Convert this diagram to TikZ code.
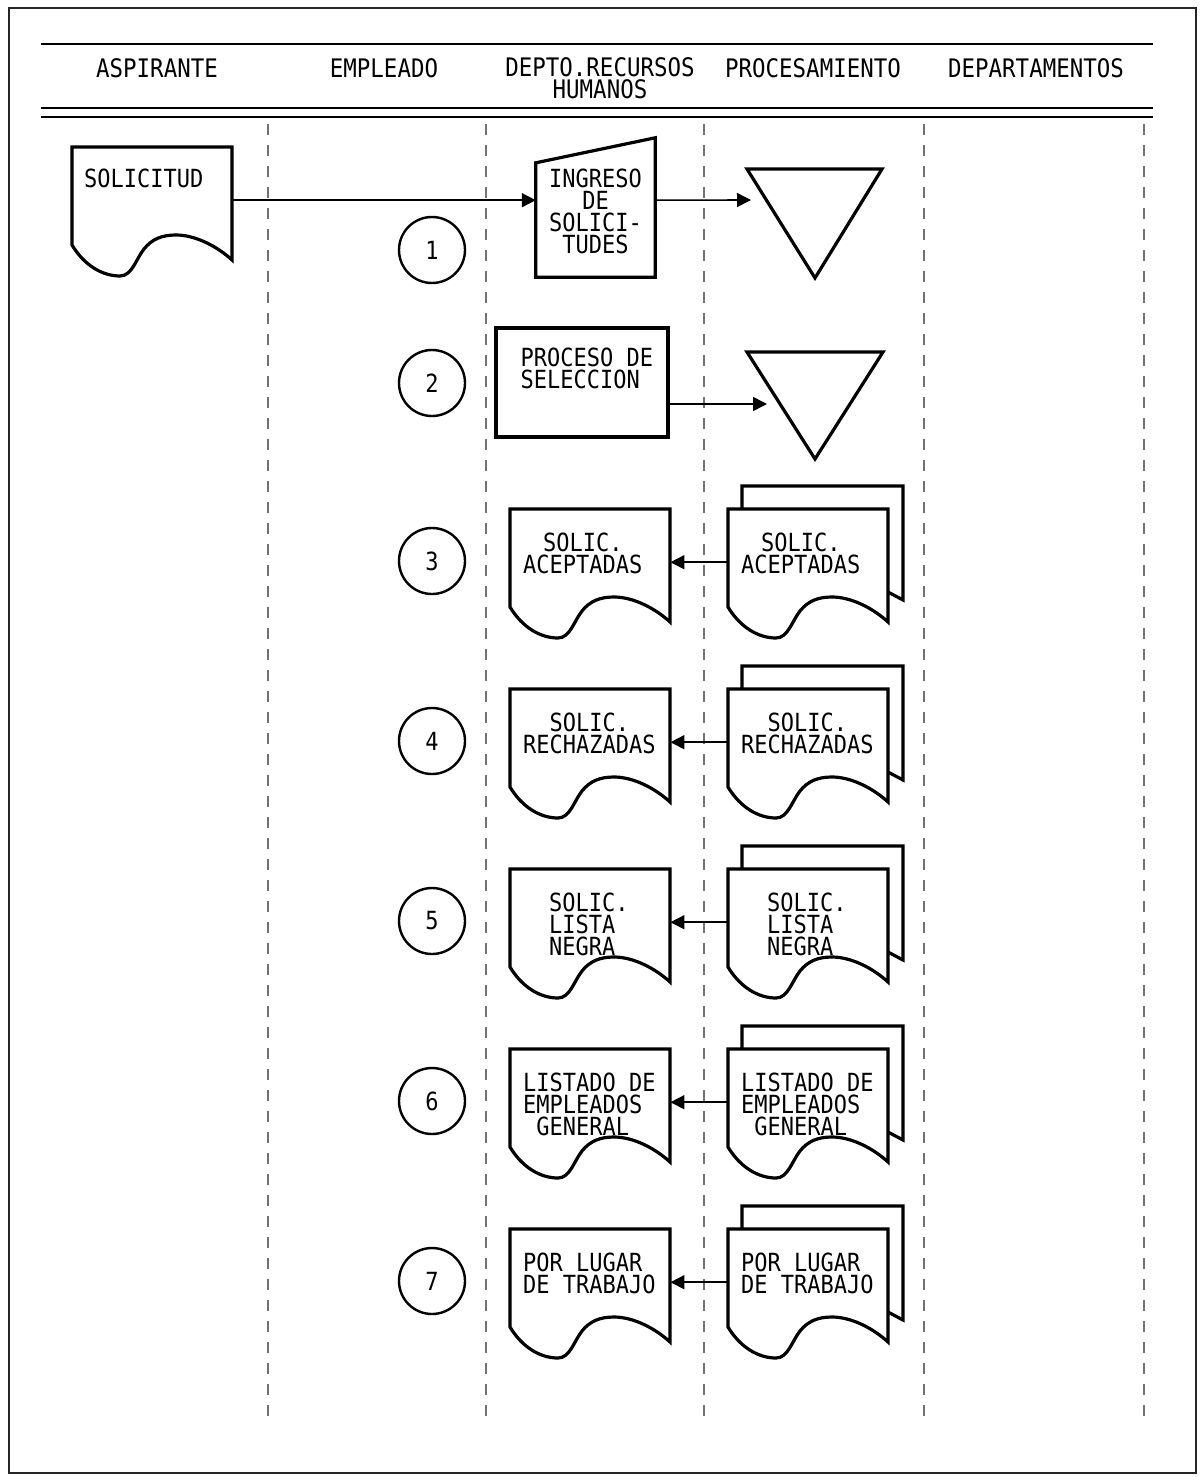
\documentclass[tikz,border=0pt]{standalone}
\usepackage{fontspec}
\newfontfamily\plotfont[FakeStretch=0.88]{DejaVu Sans Mono}
\usetikzlibrary{arrows.meta,positioning}
\tikzset{
  lane/.style={black!55, line width=1.4pt, dash pattern=on 11pt off 10pt},
  rule/.style={line width=2.4pt},
  shapeline/.style={line width=3.2pt, line join=miter},
  flow/.style={line width=1.6pt, -{Triangle[length=14pt,width=14pt]}},
  hdr/.style={font=\plotfont\fontsize{25.5}{22}\selectfont, inner sep=0pt, align=center},
  txt/.style={font=\plotfont\fontsize{25}{22}\selectfont, inner sep=0pt},
  docframe/.style={inner sep=0pt, minimum width=160pt, minimum height=106pt},
  numcirc/.style={circle, draw, line width=2.4pt, minimum size=66pt, inner sep=0pt,
    font=\plotfont\fontsize{25}{22}\selectfont},
  docu/.pic={\draw[shapeline] (0,0) -- (160,0) -- (160,113)
    .. controls (146,100) and (124,88) .. (104,88)
    .. controls (90,88) and (80,92) .. (72,102)
    .. controls (64,112) and (60,129) .. (48,129)
    .. controls (30,129) and (12,118) .. (0,98) -- cycle;},
  multidocu/.pic={\draw[shapeline] (14,0) -- (14,-23) -- (175,-23) -- (175,91) -- (160,83);
    \pic {docu};},
}
\begin{document}
\begin{tikzpicture}[x=1pt,y=-1pt]
\useasboundingbox (0,0) rectangle (1202,1477);

%Shape: Frame
\draw [line width=2.6pt, black!85] (9,8) rectangle (1196,1473);

%Shape: Header rules
\draw [rule] (41,44) -- (1153,44);
\draw [rule] (41,108) -- (1153,108);
\draw [rule] (41,117) -- (1153,117);

% Text Node
\node [hdr] (hasp) at (157,68) {ASPIRANTE};
% Text Node
\node [hdr] (hemp) at (384,68) {EMPLEADO};
% Text Node
\node [hdr, anchor=north] (hrrh) at (600,57) {DEPTO.RECURSOS\\HUMANOS};
% Text Node
\node [hdr] (hpro) at (813,68) {PROCESAMIENTO};
% Text Node
\node [hdr] (hdpt) at (1036,68) {DEPARTAMENTOS};

%Shape: Lanes
\foreach \x in {268,486,704,924,1144}
  \draw [lane] (\x,124) -- (\x,1424);

%Shape: Document SOLICITUD
\node [docframe, anchor=north west] (sol) at (72,147) {};
\pic at (sol.north west) {docu};
% Text Node
\node [txt, anchor=north west] (sol-t) at ([shift={(12,22)}]sol.north west) {SOLICITUD};

%Shape: Manual input
\node [inner sep=0pt, minimum width=119pt, minimum height=114pt] (ing) at (595.5,220) {};
\draw [shapeline] (ing.south west) -- (ing.north west) -- ([yshift=25pt]ing.north east)
  -- (ing.south east) -- cycle;
% Text Node
\node [txt, align=center, anchor=north] (ing-t) at ([yshift=-6pt]ing.north) {INGRESO\\DE\\SOLICI-\\TUDES};

%Shape: Triangle
\draw [shapeline] (747,169) -- (882,169) -- (815,278) -- cycle;
\coordinate (tri1) at (751,200);

\draw [flow] (sol.east) -- (sol.east -| ing.west);
\draw [flow] (sol.east -| ing.east) -- (tri1);

%Shape: Process
\node [draw, shapeline, inner sep=0pt, minimum width=172pt, minimum height=109pt] (pro) at (582,382.5) {};
% Text Node
\node [txt, align=left, anchor=north west] (pro-t) at ([shift={(26,21)}]pro.north west) {PROCESO DE\\SELECCION};

%Shape: Triangle
\draw [shapeline] (747,352) -- (883,352) -- (815,459) -- cycle;
\coordinate (tri2) at (767,404);

\draw [flow] (pro.east |- tri2) -- (tri2);

%Shape: Step circles
\foreach \n/\y in {1/250,2/383,3/561,4/741,5/921,6/1101,7/1281}
  \node [numcirc] (c\n) at (432,\y) {\n};

%Shape: Documents
\foreach \r/\y/\al/\dx/\t in {
    3/509/center/13/{SOLIC.\\ACEPTADAS},
    4/689/center/13/{SOLIC.\\RECHAZADAS},
    5/869/left/39/{SOLIC.\\LISTA\\NEGRA},
    6/1049/left/13/{LISTADO DE\\EMPLEADOS\\~GENERAL},
    7/1229/left/13/{POR LUGAR\\DE TRABAJO}}{
  \node [docframe, anchor=north west] (ds\r) at (510,\y) {};
  \pic at (ds\r.north west) {docu};
  \node [txt, align=\al, anchor=north west] (ds\r-t) at ([shift={(\dx,24)}]ds\r.north west) {\t};
  \node [docframe, anchor=north west] (pr\r) at (728,\y) {};
  \pic at (pr\r.north west) {multidocu};
  \node [txt, align=\al, anchor=north west] (pr\r-t) at ([shift={(\dx,24)}]pr\r.north west) {\t};
  \draw [flow] (pr\r.west) -- (ds\r.east);
}

\end{tikzpicture}
\end{document}
